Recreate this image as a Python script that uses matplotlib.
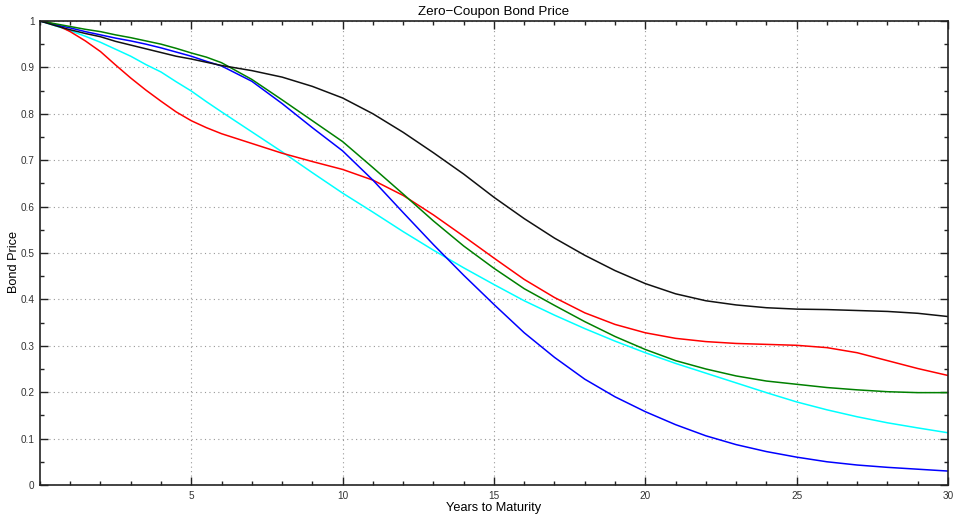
import matplotlib
matplotlib.use("Agg")
import matplotlib.pyplot as plt
from matplotlib.ticker import MultipleLocator

plt.rcParams['font.family'] = ['Liberation Sans', 'DejaVu Sans']

# Maturities in years (half-year steps at the short end) and discount curves for each scenario.
years = [0, 0.5, 1, 1.5, 2, 2.5, 3, 3.5, 4, 4.5, 5, 5.5, 6,
         7, 8, 9, 10, 11, 12, 13, 14, 15, 16, 17, 18, 19, 20,
         21, 22, 23, 24, 25, 26, 27, 28, 29, 30]
price_black = [1.0, 0.990, 0.981, 0.973, 0.966, 0.956, 0.948, 0.940, 0.932, 0.924, 0.918, 0.911, 0.904,
               0.893, 0.879, 0.859, 0.834, 0.800, 0.760, 0.716, 0.670, 0.620, 0.574, 0.532, 0.495, 0.462,
               0.434, 0.412, 0.397, 0.388, 0.382, 0.379, 0.378, 0.376, 0.374, 0.370, 0.363]
price_red = [1.0, 0.993, 0.977, 0.957, 0.934, 0.905, 0.877, 0.851, 0.827, 0.804, 0.785, 0.770, 0.757,
             0.736, 0.715, 0.697, 0.680, 0.657, 0.624, 0.582, 0.536, 0.489, 0.443, 0.404, 0.371, 0.346,
             0.328, 0.316, 0.309, 0.305, 0.303, 0.301, 0.296, 0.285, 0.268, 0.251, 0.236]
price_green = [1.0, 0.994, 0.988, 0.982, 0.977, 0.970, 0.964, 0.957, 0.950, 0.941, 0.931, 0.922, 0.910,
               0.874, 0.830, 0.785, 0.740, 0.684, 0.627, 0.569, 0.515, 0.467, 0.423, 0.387, 0.352, 0.320,
               0.292, 0.268, 0.250, 0.235, 0.224, 0.217, 0.210, 0.205, 0.201, 0.199, 0.199]
price_blue = [1.0, 0.992, 0.985, 0.977, 0.970, 0.963, 0.957, 0.950, 0.942, 0.933, 0.924, 0.913, 0.903,
              0.870, 0.822, 0.770, 0.720, 0.657, 0.587, 0.518, 0.452, 0.389, 0.328, 0.275, 0.228, 0.190,
              0.158, 0.130, 0.106, 0.087, 0.072, 0.060, 0.050, 0.043, 0.038, 0.034, 0.030]
price_cyan = [1.0, 0.990, 0.979, 0.967, 0.954, 0.939, 0.924, 0.906, 0.890, 0.869, 0.849, 0.826, 0.804,
              0.761, 0.718, 0.673, 0.629, 0.588, 0.546, 0.506, 0.468, 0.432, 0.397, 0.366, 0.337, 0.310,
              0.285, 0.262, 0.241, 0.220, 0.199, 0.179, 0.162, 0.147, 0.134, 0.123, 0.1125]

xtick_vals = [5, 10, 15, 20, 25, 30]
ytick_vals = [0, 0.1, 0.2, 0.3, 0.4, 0.5, 0.6, 0.7, 0.8, 0.9, 1]
ytick_labels = ['0', '0.1', '0.2', '0.3', '0.4', '0.5', '0.6', '0.7', '0.8', '0.9', '1']

fig = plt.figure(figsize=(9.56, 5.15), dpi=100)
ax = fig.add_axes([0.0418, 0.0583, 0.9498, 0.9010])

ax.plot(years, price_cyan, color='#00ffff', lw=1.1)
ax.plot(years, price_red, color='#ff0000', lw=1.1)
ax.plot(years, price_blue, color='#0000ff', lw=1.1)
ax.plot(years, price_green, color='#008000', lw=1.1)
ax.plot(years, price_black, color='#111111', lw=1.1)

ax.set_xlim(0, 30)
ax.set_ylim(0, 1)
ax.set_xticks(xtick_vals)
ax.set_xticklabels([str(v) for v in xtick_vals])
ax.set_yticks(ytick_vals)
ax.set_yticklabels(ytick_labels)
ax.xaxis.set_minor_locator(MultipleLocator(1))
ax.yaxis.set_minor_locator(MultipleLocator(0.05))

ax.tick_params(which='both', direction='in', top=True, right=True, labelsize=7.2, pad=4,
               colors='#222222', labelcolor='#333333')
ax.tick_params(which='major', length=6, width=1.0)
ax.tick_params(which='minor', length=3, width=1.0)
for s in ax.spines.values():
    s.set_linewidth(1.2)
    s.set_color('#222222')

ax.grid(True, which='major', linestyle=(0, (1, 3)), color='#999999', linewidth=0.8)

ax.set_title('Zero\u2212Coupon Bond Price', fontsize=9.6, pad=4)
ax.set_xlabel('Years to Maturity', fontsize=9.2, labelpad=1)
ax.set_ylabel('Bond Price', fontsize=9.2, labelpad=1)
ax.yaxis.set_label_coords(-0.022, 0.48)

fig.savefig('out.png', dpi=100)
